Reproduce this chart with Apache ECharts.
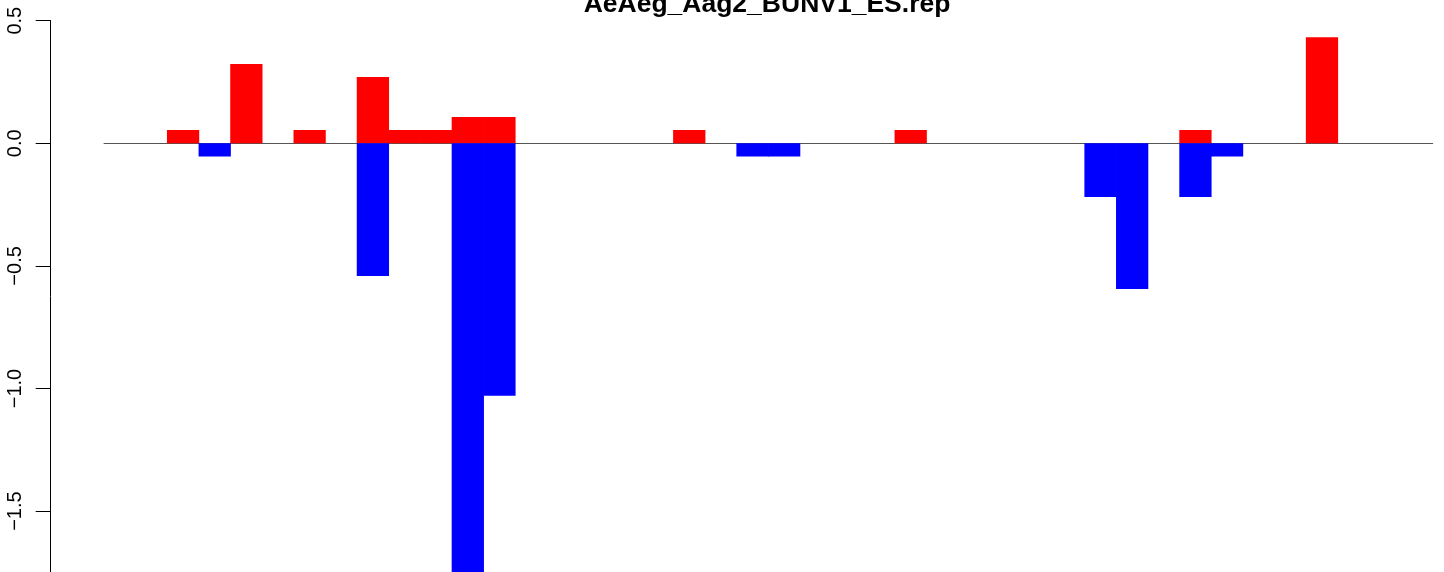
<!DOCTYPE html>
<html>
<head>
<meta charset="utf-8">
<script src="https://cdn.jsdelivr.net/npm/echarts@6/dist/echarts.min.js"></script>
<style>
html,body{margin:0;padding:0;background:#fff;}
#chart{width:1444px;height:572px;}
</style>
</head>
<body>
<div id="chart"></div>
<script>
// 42 bar slots (no visible category labels in the reference)
const categories = [];
for (let i = 1; i <= 42; i++) categories.push(String(i));

// Positive (red) values per slot
const posValues = [null,null,0.054,null,0.323,null,0.054,null,0.270,0.054,
                   0.054,0.107,0.107,null,null,null,null,null,0.054,null,
                   null,null,null,null,null,0.054,null,null,null,null,
                   null,null,null,null,0.054,null,null,null,0.433,null,
                   null,null];
// Negative (blue) values per slot
const negValues = [null,null,null,-0.054,null,null,null,null,-0.541,null,
                   null,-1.85,-1.03,null,null,null,null,null,null,null,
                   -0.054,-0.054,null,null,null,null,null,null,null,null,
                   null,-0.219,-0.594,null,-0.219,-0.054,null,null,null,null,
                   null,null];

const titleText = 'AeAeg_Aag2_BUNV1_ES.rep';
const yMin = -2.0, yMax = 0.5, yStep = 0.5;

const FONT = '"Liberation Sans", Arial, Helvetica, sans-serif';
const chart = echarts.init(document.getElementById('chart'), null, {renderer: 'canvas'});
chart.setOption({
  animation: false,
  backgroundColor: '#ffffff',
  title: {
    text: titleText,
    left: 762,
    textAlign: 'center',
    top: -13.5,
    textStyle: {fontFamily: FONT, fontWeight: 'bold', fontSize: 26.5, color: '#000', lineHeight: 26}
  },
  grid: {left: 104, width: 1328.7, top: 20.7, height: 613, outerBoundsMode: 'none', containLabel: false},
  xAxis: {
    type: 'category',
    data: categories,
    boundaryGap: true,
    axisLine: {show: true, onZero: true, lineStyle: {color: '#555555', width: 1}},
    axisTick: {show: false},
    axisLabel: {show: false},
    splitLine: {show: false}
  },
  yAxis: {
    type: 'value',
    min: yMin, max: yMax, interval: yStep,
    position: 'left',
    offset: 53.3,
    axisLine: {show: true, lineStyle: {color: '#000', width: 1}},
    axisTick: {show: true, length: 15, inside: false, lineStyle: {color: '#000', width: 1}},
    splitLine: {show: false},
    axisLabel: {
      rotate: 90,
      margin: 25,
      fontFamily: FONT, fontSize: 20, color: '#000',
      formatter: v => v.toFixed(1).replace('-', '\u2212')
    }
  },
  series: [
    {type: 'bar', data: posValues, barWidth: '102%', barGap: '-100%', clip: true,
     itemStyle: {color: '#ff0000'}},
    {type: 'bar', data: negValues, barWidth: '102%', barGap: '-100%', clip: true,
     itemStyle: {color: '#0000ff'}}
  ]
});
</script>
</body>
</html>
